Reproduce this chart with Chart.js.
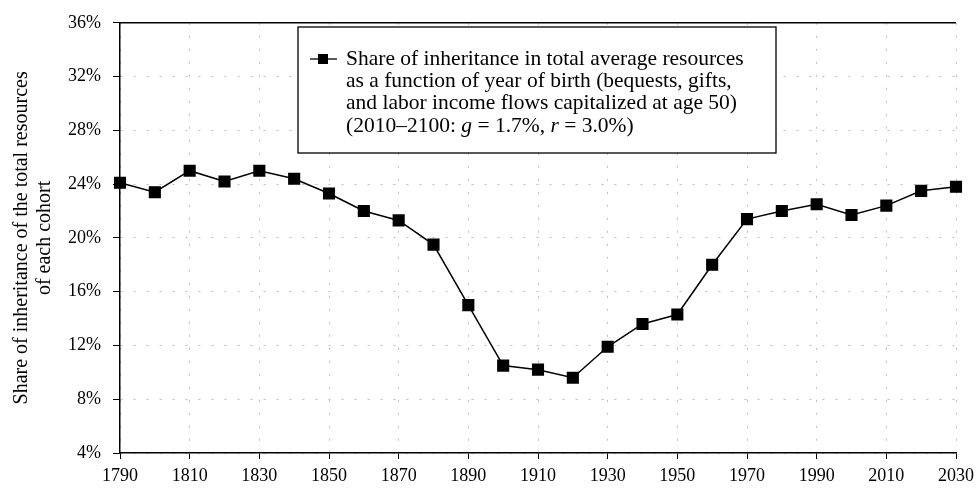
<!DOCTYPE html>
<html>
<head>
<meta charset="utf-8">
<script src="https://cdn.jsdelivr.net/npm/chart.js@4"></script>
<style>
  html, body { margin: 0; padding: 0; background: #fff; }
  #wrap { width: 980px; height: 491px; position: relative; }
</style>
</head>
<body>
<div id="wrap"><canvas id="chart"></canvas></div>
<script>
const years = [1790, 1800, 1810, 1820, 1830, 1840, 1850, 1860, 1870, 1880, 1890, 1900, 1910,
  1920, 1930, 1940, 1950, 1960, 1970, 1980, 1990, 2000, 2010, 2020, 2030];
const inheritanceShare = [24.1, 23.4, 25.0, 24.2, 25.0, 24.4, 23.3, 22.0, 21.3, 19.5, 15.0, 10.5, 10.2,
  9.6, 11.9, 13.6, 14.3, 18.0, 21.4, 22.0, 22.5, 21.7, 22.4, 23.5, 23.8];
const yTicks = [4, 8, 12, 16, 20, 24, 28, 32, 36];
const xTicks = [1790, 1810, 1830, 1850, 1870, 1890, 1910, 1930, 1950, 1970, 1990, 2010, 2030];
const yTitle = ['Share of inheritance of the total resources', 'of each cohort'];
const legendLines = [
  'Share of inheritance in total average resources',
  'as a function of year of birth (bequests, gifts,',
  'and labor income flows capitalized at age 50)'
];

const SERIF = '"Liberation Serif", "DejaVu Serif", serif';

// legend box drawn by hand, Chart.js legend can't do multi-line labels
const legendBox = {
  id: 'legendBox',
  afterDraw(chart) {
    const ctx = chart.ctx;
    const { top, left, right } = chart.chartArea;
    ctx.save();
    // top frame line
    ctx.strokeStyle = '#000';
    ctx.lineWidth = 1.5;
    ctx.beginPath();
    ctx.moveTo(left, top);
    ctx.lineTo(right, top);
    ctx.stroke();

    const bx = 298, by = 27, bw = 478, bh = 126;
    ctx.fillStyle = '#fff';
    ctx.fillRect(bx, by, bw, bh);
    ctx.lineWidth = 1.3;
    ctx.strokeRect(bx, by, bw, bh);

    ctx.beginPath();
    ctx.moveTo(310, 59);
    ctx.lineTo(337, 59);
    ctx.stroke();
    ctx.fillStyle = '#000';
    ctx.fillRect(318, 54, 10, 10);

    ctx.font = '21.5px ' + SERIF;
    ctx.textBaseline = 'middle';
    ctx.textAlign = 'left';
    legendLines.forEach((t, i) => ctx.fillText(t, 346, 59 + i * 22.3));

    // last line with italic g and r
    const parts = [['(2010–2100: ', false], ['g', true], [' = 1.7%, ', false], ['r', true], [' = 3.0%)', false]];
    let x = 346;
    parts.forEach(([t, it]) => {
      ctx.font = (it ? 'italic ' : '') + '21.5px ' + SERIF;
      ctx.fillText(t, x, 126);
      x += ctx.measureText(t).width;
    });
    ctx.restore();
  }
};

new Chart(document.getElementById('chart'), {
  type: 'line',
  data: {
    datasets: [{
      label: legendLines[0],
      data: years.map((y, i) => ({ x: y, y: inheritanceShare[i] })),
      borderColor: '#000',
      backgroundColor: '#000',
      borderWidth: 1.5,
      pointStyle: 'rect',
      pointRadius: 7.5,
      pointHoverRadius: 7.5,
      tension: 0,
      clip: false
    }]
  },
  options: {
    responsive: true,
    maintainAspectRatio: false,
    animation: false,
    layout: { padding: { top: 16, right: 21, left: 0, bottom: 0 } },
    plugins: {
      legend: { display: false },
      tooltip: { enabled: false }
    },
    scales: {
      x: {
        type: 'linear',
        min: 1790,
        max: 2030,
        afterBuildTicks: (s) => { s.ticks = xTicks.map(v => ({ value: v })); },
        afterFit: (s) => { s.height = 38; },
        ticks: {
          color: '#000',
          font: { family: SERIF, size: 18 },
          padding: 6,
          maxRotation: 0,
          callback: (v) => String(v)
        },
        grid: {
          color: '#bdbdbd',
          lineWidth: 1,
          tickLength: 6,
          tickColor: '#000'
        },
        border: { color: '#000', width: 1.5, dash: [2, 11] }
      },
      y: {
        min: 4,
        max: 36,
        afterBuildTicks: (s) => { s.ticks = yTicks.map(v => ({ value: v })); },
        afterFit: (s) => { s.width = 120; },
        ticks: {
          color: '#000',
          font: { family: SERIF, size: 18 },
          padding: 12,
          callback: (v) => v + '%'
        },
        grid: {
          color: '#bdbdbd',
          lineWidth: 1,
          tickLength: 7,
          tickColor: '#000'
        },
        border: { color: '#000', width: 1.5, dash: [2, 11] },
        title: {
          display: true,
          text: yTitle,
          color: '#000',
          font: { family: SERIF, size: 20, lineHeight: 1.15 },
          padding: { top: 10, bottom: 0 }
        }
      }
    }
  },
  plugins: [legendBox]
});
</script>
</body>
</html>
